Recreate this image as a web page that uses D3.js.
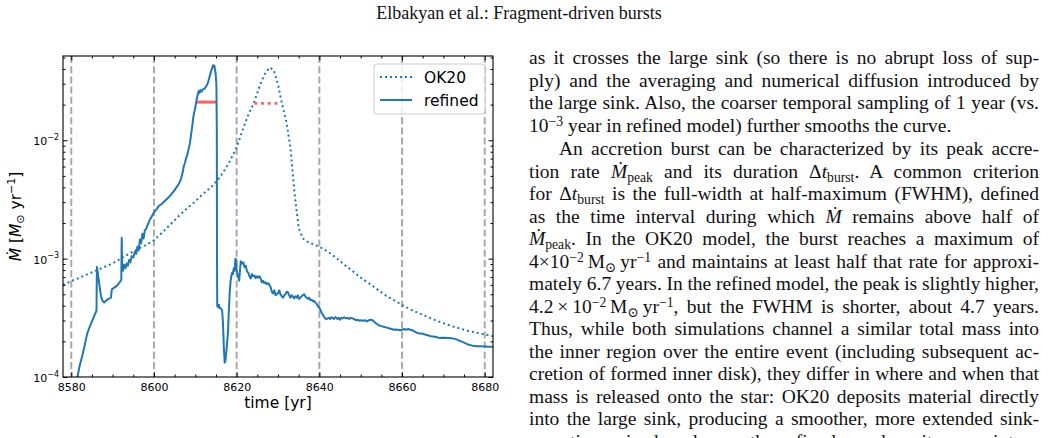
<!DOCTYPE html>
<html><head><meta charset="utf-8">
<script src="https://cdn.jsdelivr.net/npm/d3@7"></script>
<style>
body{margin:0;background:#fff;width:1049px;height:438px;overflow:hidden;position:relative;}
svg{position:absolute;left:0;top:0;}
.tl{position:absolute;font-family:"Liberation Serif","Times New Roman","DejaVu Serif",serif;font-size:19.5px;line-height:20px;color:#111;white-space:nowrap;}
.tl i{font-style:italic;}
.sup{position:relative;top:-0.45em;font-size:0.7em;}
.sub{position:relative;top:0.3em;font-size:0.7em;}
</style></head><body>
<svg id="chart" width="1049" height="438"></svg>
<script>
// ---------------- data ----------------
const xLimits = [8578, 8682];
const yLimits = [1e-4, 0.0515];
const xMajorTicks = [8580, 8600, 8620, 8640, 8660, 8680];
const xMinorTicks = [8585, 8590, 8595, 8605, 8610, 8615, 8625, 8630, 8635, 8645, 8650, 8655, 8665, 8670, 8675];
const yMajorTicks = [1e-4, 1e-3, 1e-2];
const yMajorExp = ["−4", "−3", "−2"];
const yMinorTicks = [2e-4,3e-4,4e-4,5e-4,6e-4,7e-4,8e-4,9e-4,2e-3,3e-3,4e-3,5e-3,6e-3,7e-3,8e-3,9e-3,2e-2,3e-2,4e-2,5e-2];
const snapshotLines = [8580, 8600, 8620, 8640, 8660, 8680];

const seriesNames = ["OK20", "refined"];

const ok20Time = [8578,8580,8582,8584,8586,8588,8590,8592,8594,8596,8598,8600,8602,8604,8606,8608,8610,8612,8614,8616,8618,8619,8620,8621,8622,8623,8624,8625,8626,8627,8628,8629,8630,8631,8632,8633,8634,8635,8636,8637,8638,8639,8640,8642,8644,8646,8648,8650,8652,8654,8656,8658,8660,8662,8664,8666,8668,8670,8672,8674,8676,8678,8680,8682];
const ok20Mdot = [6.0e-4,6.46e-4,6.9e-4,7.4e-4,7.9e-4,8.5e-4,9.1e-4,1.0e-3,1.1e-3,1.2e-3,1.3e-3,1.43e-3,1.66e-3,1.95e-3,2.29e-3,2.66e-3,3.05e-3,3.55e-3,4.07e-3,4.9e-3,6.3e-3,7.4e-3,8.7e-3,1.10e-2,1.38e-2,1.70e-2,2.0e-2,2.51e-2,3.16e-2,3.72e-2,4.12e-2,3.9e-2,2.95e-2,2.0e-2,1.45e-2,8.7e-3,3.55e-3,1.82e-3,1.48e-3,1.40e-3,1.35e-3,1.30e-3,1.26e-3,1.15e-3,1.02e-3,8.9e-4,7.9e-4,6.9e-4,6.2e-4,5.5e-4,4.9e-4,4.47e-4,4.07e-4,3.72e-4,3.47e-4,3.24e-4,3.02e-4,2.85e-4,2.69e-4,2.57e-4,2.45e-4,2.37e-4,2.29e-4,2.21e-4];

const refinedTime = [8581.3,8581.5,8582.0,8582.6,8583.2,8583.8,8584.4,8585.0,8585.6,8586.1,8586.2,8586.4,8586.8,8587.2,8587.6,8588.0,8588.4,8589.0,8589.6,8589.8,8590.4,8591.0,8591.6,8592.1,8592.2,8592.3,8592.5,8592.8,8593.1,8593.4,8593.7,8594.0,8594.3,8594.6,8595.0,8595.4,8595.7,8596.0,8596.3,8596.6,8596.9,8597.2,8597.5,8597.8,8598.1,8598.4,8598.7,8599.0,8599.4,8599.8,8600.2,8600.7,8601.2,8601.8,8602.4,8603.0,8603.6,8604.2,8604.8,8605.4,8606.0,8606.5,8606.9,8607.2,8607.5,8607.8,8608.1,8608.4,8608.7,8608.9,8609.1,8609.3,8609.5,8609.7,8609.9,8610.1,8610.3,8610.6,8610.8,8611.0,8611.2,8611.5,8611.8,8612.2,8612.6,8613.0,8613.4,8613.8,8614.3,8614.6,8614.9,8615.1,8615.2,8615.25,8615.3,8615.5,8615.7,8615.9,8616.2,8616.5,8616.7,8616.9,8617.1,8617.3,8617.6,8617.9,8618.1,8618.3,8618.5,8618.7,8618.9,8619.1,8619.3,8619.5,8619.7,8619.85,8620.0,8620.3,8620.6,8620.8,8621.0,8621.3,8621.6,8621.9,8622.2,8622.5,8622.8,8623.1,8623.4,8623.7,8624.0,8624.3,8624.6,8624.9,8625.2,8625.5,8625.8,8626.1,8626.4,8626.7,8627.0,8627.3,8627.6,8627.9,8628.2,8628.5,8628.8,8629.1,8629.4,8629.7,8630.0,8630.3,8630.6,8630.9,8631.2,8631.5,8631.8,8632.1,8632.4,8632.7,8633.0,8633.3,8633.6,8633.9,8634.2,8634.5,8634.8,8635.1,8635.4,8635.7,8636.0,8636.3,8636.6,8636.9,8637.2,8637.5,8637.8,8638.1,8638.4,8638.7,8639.0,8639.3,8639.6,8639.9,8640.2,8640.5,8640.8,8641.1,8641.4,8641.7,8642.0,8642.3,8642.6,8642.9,8643.2,8643.5,8643.8,8644.1,8644.4,8644.7,8645.0,8645.3,8645.6,8646.0,8646.4,8646.8,8647.2,8647.6,8648.0,8648.4,8648.8,8649.2,8649.6,8650.0,8650.5,8651.0,8651.5,8652.0,8652.5,8653.0,8653.5,8654.0,8654.5,8655.0,8655.5,8656.0,8656.5,8657.0,8657.5,8658.0,8658.5,8659.0,8659.5,8660.0,8660.5,8661.0,8661.5,8662.0,8662.5,8663.0,8663.5,8664.0,8665.0,8666.0,8667.0,8668.0,8669.0,8670.0,8671.0,8672.0,8673.0,8674.0,8675.0,8676.0,8677.0,8678.0,8679.0,8680.0,8681.0,8682.0];
const refinedMdot = [9.0e-5,1.0e-4,1.23e-4,1.48e-4,1.82e-4,2.29e-4,2.63e-4,2.95e-4,3.31e-4,3.63e-4,8.5e-4,7.6e-4,6.0e-4,4.8e-4,4.37e-4,4.27e-4,4.42e-4,4.57e-4,4.68e-4,5.5e-4,5.69e-4,5.89e-4,6.24e-4,6.6e-4,1.5e-3,8.7e-4,7.9e-4,8.9e-4,8.3e-4,9.1e-4,8.7e-4,9.8e-4,9.3e-4,1.05e-3,1.02e-3,1.15e-3,1.10e-3,1.26e-3,1.17e-3,1.45e-3,1.35e-3,1.62e-3,1.48e-3,1.74e-3,1.78e-3,1.91e-3,2.0e-3,2.14e-3,2.24e-3,2.40e-3,2.51e-3,2.63e-3,2.79e-3,2.88e-3,3.02e-3,3.16e-3,3.31e-3,3.51e-3,3.72e-3,3.98e-3,4.27e-3,4.68e-3,5.25e-3,6.0e-3,6.46e-3,7.1e-3,7.6e-3,8.5e-3,9.5e-3,1.07e-2,1.20e-2,1.35e-2,1.55e-2,1.70e-2,1.82e-2,2.0e-2,2.19e-2,2.45e-2,2.6e-2,2.51e-2,2.66e-2,2.57e-2,2.69e-2,2.72e-2,2.85e-2,3.02e-2,3.39e-2,3.80e-2,4.3e-2,4.27e-2,3.72e-2,2.95e-2,1.26e-2,1.0e-3,3.98e-4,3.89e-4,4.07e-4,3.80e-4,3.80e-4,3.63e-4,2.82e-4,1.78e-4,1.32e-4,1.38e-4,1.78e-4,2.40e-4,3.55e-4,5.0e-4,6.3e-4,7.1e-4,7.6e-4,7.4e-4,8.3e-4,7.9e-4,1.0e-3,9.8e-4,7.9e-4,7.2e-4,6.5e-4,7.9e-4,9.5e-4,9.1e-4,9.3e-4,8.5e-4,8.7e-4,7.8e-4,7.6e-4,7.1e-4,6.8e-4,7.4e-4,7.1e-4,7.2e-4,6.84e-4,7.1e-4,6.9e-4,7.1e-4,6.8e-4,6.3e-4,6.5e-4,6.2e-4,6.3e-4,6.1e-4,6.2e-4,6.0e-4,5.75e-4,5.25e-4,5.1e-4,5.4e-4,4.9e-4,5.0e-4,5.1e-4,5.4e-4,5.0e-4,4.8e-4,4.68e-4,4.9e-4,5.0e-4,5.25e-4,5.2e-4,4.9e-4,4.68e-4,4.9e-4,4.8e-4,4.62e-4,4.8e-4,4.68e-4,4.9e-4,4.57e-4,4.68e-4,4.8e-4,4.9e-4,5.0e-4,4.8e-4,4.68e-4,4.57e-4,4.68e-4,4.47e-4,4.5e-4,4.37e-4,4.4e-4,4.27e-4,4.17e-4,3.98e-4,3.89e-4,3.72e-4,3.5e-4,3.39e-4,3.24e-4,3.13e-4,3.09e-4,3.13e-4,3.16e-4,3.09e-4,3.2e-4,3.16e-4,3.09e-4,3.2e-4,3.16e-4,3.09e-4,3.16e-4,3.05e-4,3.16e-4,3.13e-4,3.2e-4,3.13e-4,3.16e-4,3.09e-4,3.16e-4,3.13e-4,3.09e-4,3.02e-4,3.05e-4,2.99e-4,3.02e-4,2.99e-4,3.02e-4,2.95e-4,3.02e-4,3.05e-4,2.99e-4,2.88e-4,2.79e-4,2.72e-4,2.69e-4,2.66e-4,2.63e-4,2.6e-4,2.57e-4,2.54e-4,2.51e-4,2.52e-4,2.51e-4,2.48e-4,2.51e-4,2.54e-4,2.51e-4,2.54e-4,2.51e-4,2.48e-4,2.43e-4,2.37e-4,2.34e-4,2.32e-4,2.26e-4,2.21e-4,2.19e-4,2.14e-4,2.15e-4,2.14e-4,2.13e-4,2.09e-4,2.02e-4,1.95e-4,1.88e-4,1.84e-4,1.82e-4,1.82e-4,1.81e-4,1.80e-4,1.80e-4];

// half-maximum (FWHM) markers
const refinedHalfTime = [8610.4, 8615.1];
const refinedHalfMdot = 2.1e-2;
const ok20HalfTime = [8624.3, 8630.8];
const ok20HalfMdot = 2.05e-2;

const headerText = "Elbakyan et al.: Fragment-driven bursts";
const bodyLines = [
 "as it crosses the large sink (so there is no abrupt loss of sup-",
 "ply) and the averaging and numerical diffusion introduced by",
 "the large sink. Also, the coarser temporal sampling of 1 year (vs.",
 "10<span class='sup'>−3</span> year in refined model) further smooths the curve.",
 "An accretion burst can be characterized by its peak accre-",
 "tion rate <i>Ṁ</i><span class='sub'>peak</span> and its duration Δ<i>t</i><span class='sub'>burst</span>. A common criterion",
 "for Δ<i>t</i><span class='sub'>burst</span> is the full-width at half-maximum (FWHM), defined",
 "as the time interval during which <i>Ṁ</i> remains above half of",
 "<i>Ṁ</i><span class='sub'>peak</span>. In the OK20 model, the burst reaches a maximum of",
 "4×10<span class='sup'>−2</span>\u2009M<span class='sub'>⊙</span>\u2009yr<span class='sup'>−1</span> and maintains at least half that rate for approxi-",
 "mately 6.7 years. In the refined model, the peak is slightly higher,",
 "4.2\u2009×\u200910<span class='sup'>−2</span>\u2009M<span class='sub'>⊙</span>\u2009yr<span class='sup'>−1</span>, but the FWHM is shorter, about 4.7 years.",
 "Thus, while both simulations channel a similar total mass into",
 "the inner region over the entire event (including subsequent ac-",
 "cretion of formed inner disk), they differ in where and when that",
 "mass is released onto the star: OK20 deposits material directly",
 "into the large sink, producing a smoother, more extended sink-",
 "accretion episode, whereas the refined run deposits mass into a"
];
const paragraphEnds = [3];
const paragraphStarts = [4];

// ---------------- chart ----------------
const plot = {l: 63, r: 493, t: 56, b: 377};
const blue = "#1f77b4";
const svg = d3.select("#chart");
const x = d3.scaleLinear().domain(xLimits).range([plot.l, plot.r]);
const y = d3.scaleLog().domain(yLimits).range([plot.b, plot.t]);

svg.append("defs").append("clipPath").attr("id", "clip")
  .append("rect").attr("x", plot.l).attr("y", plot.t)
  .attr("width", plot.r - plot.l).attr("height", plot.b - plot.t);

const g = svg.append("g").attr("clip-path", "url(#clip)");

// snapshot dashed lines
g.selectAll("line.snap").data(snapshotLines).join("line")
  .attr("x1", d => x(d)).attr("x2", d => x(d))
  .attr("y1", plot.t).attr("y2", plot.b)
  .attr("stroke", "#a9a9a9").attr("stroke-width", 2)
  .attr("stroke-dasharray", "7,3.2");

const ok20 = ok20Time.map((t, i) => [t, ok20Mdot[i]]);
const refined = refinedTime.map((t, i) => [t, refinedMdot[i]]);
const line = d3.line().x(d => x(d[0])).y(d => y(d[1]));

g.append("path").datum(ok20).attr("d", line)
  .attr("fill", "none").attr("stroke", blue).attr("stroke-width", 2)
  .attr("stroke-dasharray", "2,3");
g.append("path").datum(refined).attr("d", line)
  .attr("fill", "none").attr("stroke", blue).attr("stroke-width", 2)
  .attr("stroke-linejoin", "round");

// FWHM markers
g.append("line")
  .attr("x1", x(refinedHalfTime[0])).attr("x2", x(refinedHalfTime[1]))
  .attr("y1", y(refinedHalfMdot)).attr("y2", y(refinedHalfMdot))
  .attr("stroke", "#ff2020").attr("stroke-opacity", 0.7).attr("stroke-width", 3);
g.append("line")
  .attr("x1", x(ok20HalfTime[0])).attr("x2", x(ok20HalfTime[1]))
  .attr("y1", y(ok20HalfMdot)).attr("y2", y(ok20HalfMdot))
  .attr("stroke", "#ff2020").attr("stroke-opacity", 0.7).attr("stroke-width", 2.8)
  .attr("stroke-dasharray", "2.8,3.9");

// axes (inward ticks on all sides)
const tickFont = "DejaVu Sans, sans-serif";
function styleAxis(sel){
  sel.select(".domain").remove();
  sel.selectAll(".tick line").attr("stroke", "#000").attr("stroke-width", 1);
}
svg.append("g").attr("transform", `translate(0,${plot.b})`)
  .call(d3.axisBottom(x).tickValues(xMajorTicks).tickSizeInner(-4.5).tickSizeOuter(0).tickPadding(6).tickFormat(d3.format("d")))
  .call(styleAxis)
  .call(s => s.selectAll("text").attr("font-family", tickFont).attr("font-size", 11).attr("fill", "#000"));
svg.append("g").attr("transform", `translate(0,${plot.b})`)
  .call(d3.axisBottom(x).tickValues(xMinorTicks).tickSizeInner(-2.5).tickSizeOuter(0).tickFormat(""))
  .call(styleAxis);
svg.append("g").attr("transform", `translate(0,${plot.t})`)
  .call(d3.axisTop(x).tickValues(xMajorTicks).tickSizeInner(-4.5).tickSizeOuter(0).tickFormat(""))
  .call(styleAxis);
svg.append("g").attr("transform", `translate(0,${plot.t})`)
  .call(d3.axisTop(x).tickValues(xMinorTicks).tickSizeInner(-2.5).tickSizeOuter(0).tickFormat(""))
  .call(styleAxis);

const yAxisMajor = svg.append("g").attr("transform", `translate(${plot.l},0)`)
  .call(d3.axisLeft(y).tickValues(yMajorTicks).tickSizeInner(-4.5).tickSizeOuter(0).tickPadding(4).tickFormat(""))
  .call(styleAxis);
yAxisMajor.selectAll(".tick").each(function(d, i){
  const t = d3.select(this).append("text")
    .attr("x", -4).attr("y", 4.5).attr("text-anchor", "end")
    .attr("font-family", tickFont).attr("font-size", 11).attr("fill", "#000");
  t.append("tspan").text("10");
  t.append("tspan").attr("dy", -5.5).attr("font-size", 8).text(yMajorExp[i]);
});
svg.append("g").attr("transform", `translate(${plot.l},0)`)
  .call(d3.axisLeft(y).tickValues(yMinorTicks).tickSizeInner(-2.5).tickSizeOuter(0).tickFormat(""))
  .call(styleAxis);
svg.append("g").attr("transform", `translate(${plot.r},0)`)
  .call(d3.axisRight(y).tickValues(yMajorTicks).tickSizeInner(-4.5).tickSizeOuter(0).tickFormat(""))
  .call(styleAxis);
svg.append("g").attr("transform", `translate(${plot.r},0)`)
  .call(d3.axisRight(y).tickValues(yMinorTicks).tickSizeInner(-2.5).tickSizeOuter(0).tickFormat(""))
  .call(styleAxis);

// frame
svg.append("rect").attr("x", plot.l).attr("y", plot.t)
  .attr("width", plot.r - plot.l).attr("height", plot.b - plot.t)
  .attr("fill", "none").attr("stroke", "#000").attr("stroke-width", 1.1);

// axis labels
svg.append("text").attr("x", (plot.l + plot.r) / 2).attr("y", 408)
  .attr("text-anchor", "middle").attr("font-family", tickFont).attr("font-size", 15.5)
  .attr("fill", "#000").text("time [yr]");
const yl = svg.append("text").attr("transform", `translate(21,${(plot.t + plot.b) / 2}) rotate(-90)`)
  .attr("text-anchor", "middle").attr("font-family", tickFont).attr("font-size", 15.5).attr("fill", "#000");
yl.append("tspan").attr("font-style", "italic").text("Ṁ");
yl.append("tspan").text(" [");
yl.append("tspan").attr("font-style", "italic").text("M");
yl.append("tspan").attr("dy", 3).attr("font-size", 11).text("⊙");
yl.append("tspan").attr("dy", -3).text(" yr");
yl.append("tspan").attr("dy", -6).attr("font-size", 11).text("−1");
yl.append("tspan").attr("dy", 6).text("]");

// legend
const lg = svg.append("g");
lg.append("rect").attr("x", 374).attr("y", 64).attr("width", 111).attr("height", 50)
  .attr("rx", 3).attr("fill", "#fff").attr("fill-opacity", 0.8)
  .attr("stroke", "#cccccc").attr("stroke-width", 1);
const legendRows = [
  {name: seriesNames[0], dash: "2,3", y: 77},
  {name: seriesNames[1], dash: null, y: 100}
];
legendRows.forEach(r => {
  lg.append("line").attr("x1", 380).attr("x2", 412).attr("y1", r.y).attr("y2", r.y)
    .attr("stroke", blue).attr("stroke-width", 2).attr("stroke-dasharray", r.dash);
  lg.append("text").attr("x", 424).attr("y", r.y + 5.8)
    .attr("font-family", tickFont).attr("font-size", 15.5).attr("fill", "#000").text(r.name);
});

// header
svg.append("text").attr("x", 519).attr("y", 19).attr("text-anchor", "middle")
  .attr("font-family", "Liberation Serif, Times New Roman, serif").attr("font-size", 18)
  .attr("fill", "#111").text(headerText);

// body text column, justified line by line
const colLeft = 529, colWidth = 510, indent = 30, firstBaseline = 65, lineStep = 22.5, parGap = 1;
const body = d3.select("body");
bodyLines.forEach((html, i) => {
  const ind = paragraphStarts.includes(i) ? indent : 0;
  const gap = i >= paragraphStarts[0] ? parGap : 0;
  const div = body.append("div").attr("class", "tl")
    .style("left", (colLeft + ind) + "px")
    .style("top", (firstBaseline + i * lineStep + gap - 16.6) + "px")
    .html(html);
  if (!paragraphEnds.includes(i)) {
    const node = div.node();
    const w = node.getBoundingClientRect().width;
    const n = (node.textContent.match(/ /g) || []).length;
    if (n > 0) div.style("word-spacing", ((colWidth - ind - w) / n) + "px");
  }
});
</script>
</body></html>
